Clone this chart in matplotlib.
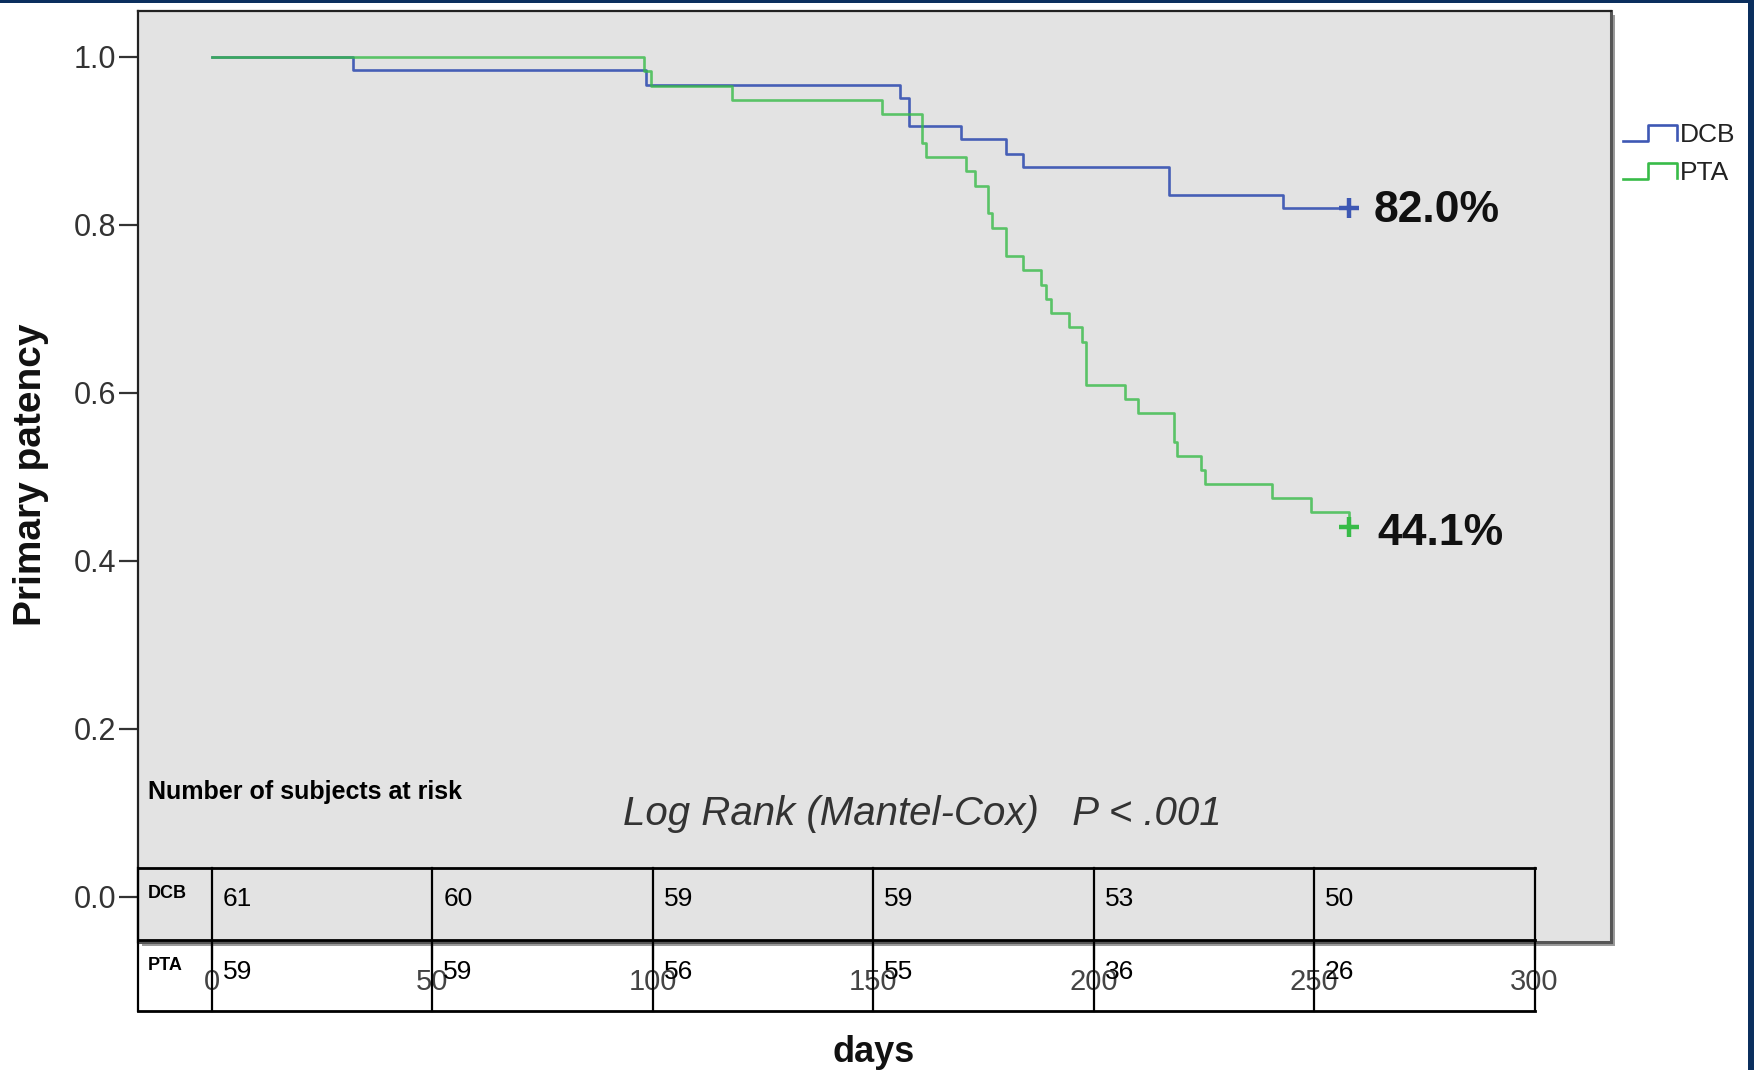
import matplotlib
matplotlib.use('Agg')
import matplotlib.pyplot as plt
from matplotlib.lines import Line2D
from matplotlib.legend_handler import HandlerBase
from matplotlib.patches import Rectangle

plt.rcParams['font.family'] = ['Liberation Sans', 'DejaVu Sans']

# KM steps: day of each drop and survival after it
dcb_days = [0, 32, 98.5, 156, 158, 170, 180, 184, 217, 243]
dcb_surv = [1.0, 0.984, 0.967, 0.951, 0.918, 0.902, 0.885, 0.869, 0.836, 0.820]
pta_days = [0, 98, 99.5, 118, 152, 161, 162, 171, 173, 176, 177, 180, 184, 188,
            189.3, 190.3, 194.3, 197.3, 198.3, 207, 210, 218.3, 219, 224.4, 225.2,
            240.4, 249.3, 258]
pta_surv = [1.0, 0.983, 0.966, 0.949, 0.932, 0.898, 0.881, 0.864, 0.847, 0.814,
            0.797, 0.763, 0.746, 0.729, 0.712, 0.695, 0.678, 0.661, 0.610, 0.593,
            0.576, 0.542, 0.525, 0.508, 0.492, 0.475, 0.458, 0.441]
last_day = 258
groups = ['DCB', 'PTA']
dcb_label = '82.0%'
pta_label = '44.1%'

# number at risk table
risk_days = [0, 50, 100, 150, 200, 250]
dcb_risk = [61, 60, 59, 59, 53, 50]
pta_risk = [59, 59, 56, 55, 36, 26]

BLUE = '#3e58b4'
GREEN = '#38bb48'
W, H = 1754, 1070


class StepHandler(HandlerBase):
    # legend glyph shaped like a little step, as in SPSS
    def create_artists(self, legend, orig_handle, xdescent, ydescent,
                       width, height, fontsize, trans):
        x0, y0 = -xdescent, -ydescent
        xm = x0 + 0.46 * width
        xs = [x0, xm, xm, x0 + width, x0 + width]
        ys = [y0 + 0.1 * height, y0 + 0.1 * height, y0 + 0.9 * height,
              y0 + 0.9 * height, y0 + 0.15 * height]
        ln = Line2D(xs, ys, color=orig_handle.get_color(),
                    lw=orig_handle.get_linewidth(), transform=trans)
        return [ln]


fig = plt.figure(figsize=(W / 100, H / 100), dpi=100)
fig.patch.set_facecolor('white')

# axes box in pixels
L, R, T, B = 137.5, 1610.5, 11, 942
ax = fig.add_axes([L / W, 1 - B / H, (R - L) / W, (B - T) / H])
ax.set_facecolor('#e3e3e3')

# drop shadow on right / bottom of the chart box
fig.patches.append(Rectangle(((L + 4) / W, 1 - (B + 4) / H), (R - L) / W, (B - T) / H,
                             transform=fig.transFigure, facecolor='#9a9a9a',
                             edgecolor='none', zorder=-1))

px_day = (1534.5 - 212) / 300
px_unit = 897 - 57
ax.set_xlim((L - 212) / px_day, (R - 212) / px_day)
ax.set_ylim(1 - (B - 57) / px_unit, 1 + (57 - T) / px_unit)

# curves
h_dcb, = ax.step(dcb_days + [last_day], dcb_surv + [dcb_surv[-1]], where='post',
                 color=BLUE, lw=1.9, alpha=0.95, label=groups[0], zorder=3)
h_pta, = ax.step(pta_days, pta_surv, where='post',
                 color=GREEN, lw=1.9, alpha=0.8, label=groups[1], zorder=4)
ax.plot([last_day], [dcb_surv[-1]], marker='+', ms=15, mew=3.2, color=BLUE, zorder=5)
ax.plot([last_day], [pta_surv[-1]], marker='+', ms=15, mew=3.2, color=GREEN, zorder=5)

ax.text(263.6, 0.804, dcb_label, fontsize=32, fontweight='bold', color='#111',
        va='baseline', ha='left')
ax.text(264.3, 0.419, pta_label, fontsize=32, fontweight='bold', color='#111',
        va='baseline', ha='left')

ax.text(93.2, 0.0857, 'Log Rank (Mantel-Cox)   P < .001', fontsize=29,
        style='italic', color='#333', va='baseline', ha='left')

# ticks
ax.set_xticks(range(0, 301, 50))
ax.set_yticks([0, 0.2, 0.4, 0.6, 0.8, 1.0])
ax.set_yticklabels(['0.0', '0.2', '0.4', '0.6', '0.8', '1.0'])
ax.tick_params(axis='y', direction='out', length=14, width=1.6, pad=1.5,
               labelsize=22, labelcolor='#333', color='#333')
ax.tick_params(axis='x', direction='out', length=13, width=1.6, pad=6,
               labelsize=21, labelcolor='#444', color='#444')

for side in ['left', 'top']:
    ax.spines[side].set_color('#222')
    ax.spines[side].set_linewidth(1.6)
for side in ['right', 'bottom']:
    ax.spines[side].set_color('#555')
    ax.spines[side].set_linewidth(2.2)

# axis titles
fig.text(31 / W, 1 - 475 / H, 'Primary patency', rotation=90, fontsize=28,
         fontweight='bold', ha='center', va='center', color='#111')
fig.text(874 / W, 1 - 1062 / H, 'days', fontsize=26, fontweight='bold',
         ha='center', va='baseline', color='#111')

# legend outside the box
leg = fig.legend(handles=[h_dcb, h_pta], labels=groups, loc='upper left',
                 bbox_to_anchor=(1623 / W, 1 - 123 / H), frameon=False,
                 fontsize=19, handlelength=2.05, handleheight=0.75,
                 handletextpad=0.12, labelspacing=0.53, borderpad=0,
                 borderaxespad=0, handler_map={Line2D: StepHandler()})
for t in leg.get_texts():
    t.set_color('#222')

# number-at-risk table pasted over the bottom of the chart
x_left = ax.get_xlim()[0]
y_top = 1 - (868 - 57) / px_unit
y_mid = 1 - (940 - 57) / px_unit
y_bot = 1 - (1011 - 57) / px_unit
tbl = dict(color='black', lw=2, clip_on=False, zorder=6, solid_capstyle='projecting')
for yy in [y_top, y_mid, y_bot]:
    ax.plot([x_left, 300], [yy, yy], **tbl)
for xx in [x_left] + risk_days + [300]:
    ax.plot([xx, xx], [y_top, y_bot], **dict(tbl, lw=1.6))

ax.text(-14.5, 0.125, 'Number of subjects at risk', fontsize=18, fontweight='bold',
        va='center', ha='left', color='black')
ax.text(-14.5, 1 - (893 - 57) / px_unit, groups[0], fontsize=13, fontweight='bold',
        va='center', ha='left', clip_on=False)
ax.text(-14.5, 1 - (965 - 57) / px_unit, groups[1], fontsize=13, fontweight='bold',
        va='center', ha='left', clip_on=False)
for d, n1, n2 in zip(risk_days, dcb_risk, pta_risk):
    ax.text(d + 2.5, 1 - (899 - 57) / px_unit, str(n1), fontsize=19,
            va='center', ha='left', clip_on=False, zorder=7)
    ax.text(d + 2.5, 1 - (972 - 57) / px_unit, str(n2), fontsize=19,
            va='center', ha='left', clip_on=False, zorder=7)

# navy slide border (top strip and right edge)
fig.patches.append(Rectangle((0, 1 - 3 / H), 1, 3 / H, transform=fig.transFigure,
                             facecolor='#0b2f5e', edgecolor='none', zorder=10))
fig.patches.append(Rectangle((1 - 6 / W, 0), 6 / W, 1, transform=fig.transFigure,
                             facecolor='#0b2f5e', edgecolor='none', zorder=10))

fig.savefig('out.png', dpi=100)
